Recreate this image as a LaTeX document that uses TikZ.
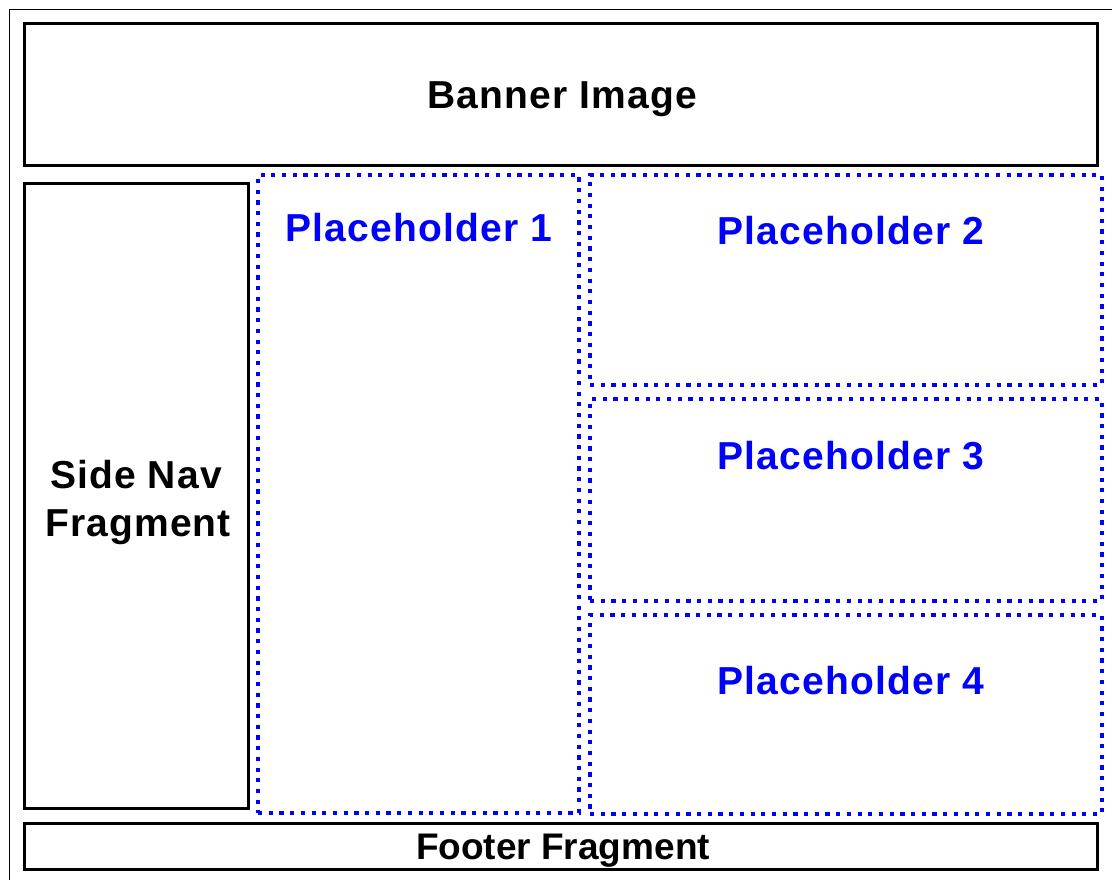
\documentclass[tikz,border=0pt]{standalone}
\usepackage{fontspec}
\setmainfont{Liberation Sans}
\newfontfamily\lblfont[LetterSpace=3]{Liberation Sans}
\newfontfamily\lbltight{Liberation Sans}
\definecolor{phblue}{RGB}{0,0,255}
\tikzset{
  blackbox/.style={draw=black, line width=3pt, inner sep=0pt, outer sep=0pt, fill=none},
  phbox/.style={draw=phblue, line width=4.2pt, dash pattern=on 4.2pt off 6.5pt, inner sep=0pt, outer sep=0pt},
  lbl/.style={font=\lblfont\bfseries\fontsize{39}{46}\selectfont, inner sep=0pt, anchor=base},
  lblt/.style={font=\lbltight\bfseries\fontsize{37}{44}\selectfont, inner sep=0pt, anchor=base},
  phlbl/.style={lbl, text=phblue},
}
\begin{document}
\begin{tikzpicture}[x=1pt,y=-1pt]
\useasboundingbox (0,0) rectangle (1112,880);
\fill[white] (0,0) rectangle (1112,880);
% outer frame
\coordinate (fTL) at (9.5,9.5);
\coordinate (fTR) at (1112,9.5);
\coordinate (fBL) at (9.5,880);
\draw[line width=1.6pt] (fBL) -- (fTL) -- (fTR);
% black boxes
\node[blackbox, minimum width=1073pt, minimum height=142pt] (banner) at (560.5,95) {};
\node[blackbox, minimum width=224pt, minimum height=624pt] (sidenav) at (136,496) {};
\node[blackbox, minimum width=1073pt, minimum height=46pt] (footer) at (560.5,846) {};
% placeholders
\node[phbox, minimum width=321pt, minimum height=638pt] (ph1) at (418.5,494) {};
\node[phbox, minimum width=512pt, minimum height=210pt] (ph2) at (846,280) {};
\node[phbox, minimum width=512pt, minimum height=202pt] (ph3) at (846,500) {};
\node[phbox, minimum width=512pt, minimum height=199pt] (ph4) at (846,714.5) {};
% labels
\node[lbl] (bannerT) at (562,109) {Banner Image};
\node[lbl] (side1) at (136,488) {Side Nav};
\node[lbl] (side2) at (138,536) {Fragment};
\node[lblt] (footT) at (563,859) {Footer Fragment};
\node[phlbl] (ph1T) at (419,241) {Placeholder 1};
\node[phlbl] (ph2T) at (851,244) {Placeholder 2};
\node[phlbl] (ph3T) at (851,469) {Placeholder 3};
\node[phlbl] (ph4T) at (851,694) {Placeholder 4};
\end{tikzpicture}
\end{document}
